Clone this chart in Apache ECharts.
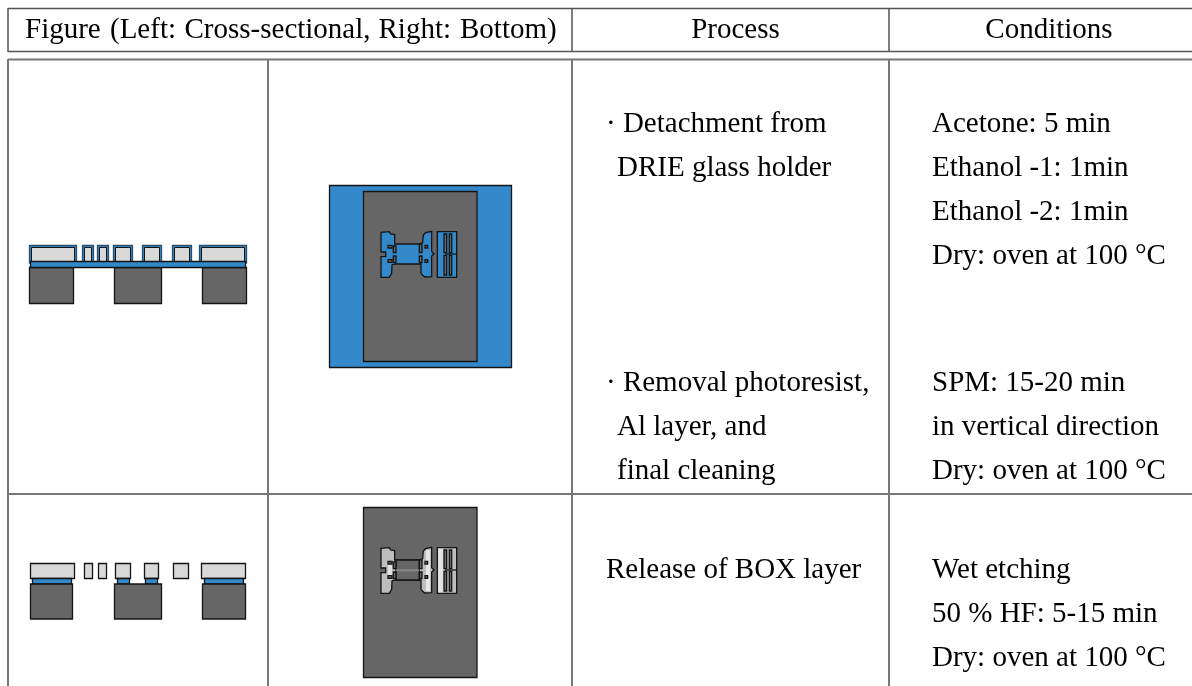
<!DOCTYPE html>
<html><head><meta charset="utf-8">
<style>html,body{margin:0;padding:0;background:#fff}#c{width:1192px;height:686px}</style>
<script src="https://cdn.jsdelivr.net/npm/echarts@6/dist/echarts.min.js"></script>
</head><body><div id="c"></div>
<script>
// ---- table content ----
var headerLeftWords = ["Figure", "(Left:", "Cross-sectional,", "Right:", "Bottom)"];
var headerProcess = "Process";
var headerConditions = "Conditions";
var processRow1a = ["· Detachment from", " DRIE glass holder"];
var conditionsRow1a = ["Acetone: 5 min", "Ethanol -1: 1min", "Ethanol -2: 1min", "Dry: oven at 100 °C"];
var processRow1b = ["· Removal photoresist,", " Al layer, and", " final cleaning"];
var conditionsRow1b = ["SPM: 15-20 min", "in vertical direction", "Dry: oven at 100 °C"];
var processRow2 = ["Release of BOX layer"];
var conditionsRow2 = ["Wet etching", "50 % HF: 5-15 min", "Dry: oven at 100 °C"];

var BLUE = '#3389c9', DARK = '#666666', LIGHT = '#d9d9d9', INK = '#141414', RULE = '#777777';
var FONT = '29px "Liberation Serif"';
var els = [];

function line(x1, y1, x2, y2, c, w) {
  els.push({type: 'line', shape: {x1: x1, y1: y1, x2: x2, y2: y2}, style: {stroke: c || RULE, lineWidth: w || 2}, silent: true});
}
function box(x0, y0, x1, y1, fill, stroke, lw) {
  els.push({type: 'rect', shape: {x: x0, y: y0, width: x1 - x0, height: y1 - y0},
    style: {fill: fill, stroke: stroke || null, lineWidth: stroke ? (lw || 1.3) : 0}, silent: true});
}
function txt(s, x, baseline, align) {
  els.push({type: 'text', x: x, y: baseline - 9, style: {text: s, font: FONT, fill: '#000', align: align || 'left', verticalAlign: 'middle'}, silent: true});
}
function column(lines, x, baseline) {
  lines.forEach(function (s, i) { txt(s.trim(), s.charAt(0) === ' ' ? x + 11 : x, baseline + i * 44); });
}

// ---- table rules ----
line(8, 8.5, 1192, 8.5, '#555', 1.5);
line(8, 51.5, 1192, 51.5, '#555', 1.5);
line(8, 59.5, 1192, 59.5, RULE, 2);
line(8, 494, 1192, 494, RULE, 2);
line(8, 8, 8, 52, '#555', 1.5);
line(572, 8, 572, 52, '#555', 1.5);
line(889, 8, 889, 52, '#555', 1.5);
[8, 268, 572, 889].forEach(function (x) { line(x, 59, x, 686, RULE, 2); });

// ---- header text ----
[25, 110, 184.5, 378.5, 460].forEach(function (x, i) { txt(headerLeftWords[i], x, 39); });
txt(headerProcess, 735.5, 39, 'center');
txt(headerConditions, 1049, 39, 'center');

// ---- body text ----
column(processRow1a, 606, 133);
column(conditionsRow1a, 932, 133);
column(processRow1b, 606, 392);
column(conditionsRow1b, 932, 392);
column(processRow2, 606, 579);
column(conditionsRow2, 932, 579);

// ---- cross section, row 1 ----
[[29,77],[82,94],[97,109],[113,133],[142,162],[172,192],[199,247]].forEach(function (p) {
  box(p[0] + .5, 245.5, p[1] - .5, 263, BLUE, '#2a4f6e', 1.3);
  box(p[0] + 2.5, 247.5, p[1] - 2.5, 262, LIGHT, INK, 1);
});
[[29,74],[114,162],[202,247]].forEach(function (p) {
  box(p[0] + .5, 267.5, p[1] - .5, 303.5, DARK, INK);
});
box(30.5, 261.5, 245.5, 267.5, BLUE, INK);

// ---- cross section, row 2 ----
[[30,75],[84,93],[98,107],[115,131],[144,159],[173,189],[201,246]].forEach(function (p) {
  box(p[0] + .5, 563.5, p[1] - .5, 578.5, LIGHT, INK);
});
[[32,72],[117,130],[145,158],[204,244]].forEach(function (p) {
  box(p[0] + .5, 578.5, p[1] - .5, 584, BLUE, INK);
});
[[30,73],[114,162],[202,246]].forEach(function (p) {
  box(p[0] + .5, 584, p[1] - .5, 619, DARK, INK);
});

// ---- bottom view device ----
var devOutline = [[63,37],[88,35],[92,42],[104,44],[104,72],[178,72],[188,68],[190,45],[197,38],[215,34],[215,95],[222,101],[215,108],[215,170],[195,171],[187,165],[183,160],[183,132],[105,132],[96,135],[95,160],[88,172],[63,172],[63,110],[77,110],[77,96],[63,96]];
function device(dy, fill) {
  function X(v) { return 360 + v / 3; }
  function Y(v) { return 220 + v / 3 + dy; }
  els.push({type: 'polygon', shape: {points: devOutline.map(function (p) { return [X(p[0]), Y(p[1])]; })},
    style: {fill: fill, stroke: INK, lineWidth: 1.3}, silent: true});
  if (dy) {
    box(X(108), Y(72), X(178), Y(132), DARK, INK);
    box(X(108), Y(100), X(178), Y(106), '#8a8a8a');
    box(X(84), Y(75), X(96), Y(130), '#e2e2e2');
    box(X(198), Y(42), X(210), Y(165), '#e6e6e6');
  }
  [[100,78,108,98],[100,108,108,128],[178,72,186,98],[178,108,186,128],[84,76,96,84],[84,119,96,127],[195,76,203,84],[195,119,203,127]].forEach(function (r) {
    box(X(r[0]), Y(r[1]), X(r[2]), Y(r[3]), DARK, INK);
  });
  box(X(232), Y(35), X(290), Y(172), fill, INK);
  if (dy) box(X(234), Y(38), X(250), Y(169), '#e2e2e2');
  [[252,42,260,98],[268,42,275,98],[252,106,260,165],[268,106,275,165]].forEach(function (r) {
    box(X(r[0]), Y(r[1]), X(r[2]), Y(r[3]), DARK, INK);
  });
  line(X(255), Y(102), X(290), Y(102), INK, 1.3);
}
box(329.5, 185.5, 511.5, 367.5, BLUE, INK);
box(363.5, 191.5, 477, 361.5, DARK, INK);
device(0, BLUE);
box(363.5, 507.5, 477, 677.5, DARK, INK);
device(316, '#bdbdbd');

var chart = echarts.init(document.getElementById('c'), null, {renderer: 'canvas'});
chart.setOption({animation: false, backgroundColor: '#fff', graphic: {elements: els}});
</script></body></html>
